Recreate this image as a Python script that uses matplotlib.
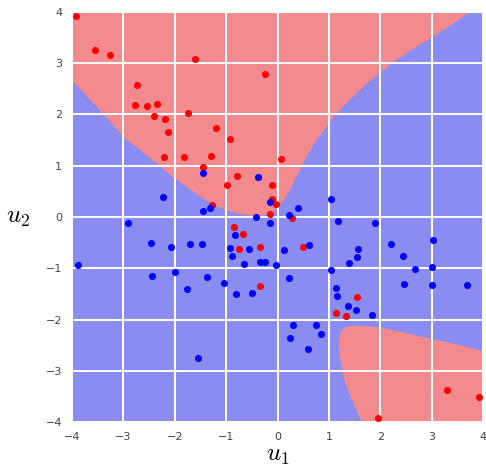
import matplotlib
matplotlib.use("Agg")
import matplotlib.pyplot as plt

plt.rcParams["mathtext.fontset"] = "cm"

# --- data -------------------------------------------------------------
red_u1 = [-3.93, -3.56, -3.25, -1.61, -0.25, -2.74, -2.77, -2.54, -2.35, -2.40,
          -2.18, -1.74, -2.13, -1.20, -0.92, -2.21, -1.81, -1.30, -1.45, -0.78,
          -0.99, -0.10, 0.07, -1.27, -0.11, -0.02, -0.14, -0.85, -0.67, -0.74,
          -0.35, -0.34, 0.28, 0.49, 1.55, 1.13, 1.34, 3.30, 3.92, 1.95]
red_u2 = [3.91, 3.25, 3.15, 3.07, 2.78, 2.57, 2.18, 2.16, 2.20, 1.96,
          1.91, 2.02, 1.65, 1.73, 1.51, 1.16, 1.16, 1.18, 0.97, 0.80,
          0.62, 0.62, 1.12, 0.23, 0.34, 0.25, 0.06, -0.19, -0.34, -0.62,
          -0.58, -1.34, -0.03, -0.59, -1.56, -1.88, -1.93, -3.38, -3.51, -3.92]

blue_u1 = [-1.45, -0.37, -2.23, -1.45, -1.32, -0.41, -0.14, -0.15, -2.90, -0.82,
           -2.47, -2.07, -1.71, -1.47, -0.93, -0.55, -0.89, -0.66, -0.34, -0.24,
           -0.02, -3.89, -2.44, -2.00, -1.37, -1.05, -1.77, -0.80, -0.50, 0.39,
           0.23, 1.04, 1.17, 1.89, 0.61, 0.12, 0.22, 1.04, 1.57, 1.54,
           1.39, 2.21, 2.45, 2.67, 3.02, 3.01, 2.46, 3.01, 3.69, 1.13,
           1.16, 1.37, 1.52, 1.84, 0.30, 0.74, 0.85, 0.24, 0.60, -1.54]
blue_u2 = [0.85, 0.77, 0.39, 0.12, 0.18, 0.00, 0.29, -0.11, -0.12, -0.35,
           -0.50, -0.58, -0.53, -0.53, -0.60, -0.62, -0.77, -0.92, -0.88, -0.88,
           -0.94, -0.93, -1.15, -1.07, -1.18, -1.29, -1.40, -1.51, -1.49, 0.18,
           0.03, 0.34, -0.08, -0.11, -0.54, -0.65, -1.20, -1.03, -0.62, -0.78,
           -0.89, -0.52, -0.76, -1.02, -0.45, -0.98, -1.31, -1.32, -1.32, -1.38,
           -1.55, -1.74, -1.82, -1.92, -2.10, -2.10, -2.29, -2.36, -2.58, -2.75]

# decision boundary of the upper red region (left to right)
upper_bx = [-4.0, -3.7, -3.4, -3.0, -2.7, -2.42, -2.2, -2.03, -1.75, -1.51, -1.3,
            -1.12, -0.9, -0.7, -0.5, -0.34, -0.2, -0.08, 0.02, 0.12, 0.24, 0.37,
            0.55, 0.75, 1.12, 1.45, 1.8, 2.23, 2.6, 2.97, 3.35, 3.75]
upper_by = [2.66, 2.34, 2.02, 1.56, 1.32, 1.10, 0.92, 0.77, 0.57, 0.40, 0.27,
            0.18, 0.10, 0.05, 0.02, 0.02, 0.05, 0.11, 0.19, 0.32, 0.52, 0.78,
            1.15, 1.48, 1.98, 2.33, 2.65, 3.0, 3.25, 3.48, 3.72, 4.0]

# outline of the lower-right red region
lower_bx = [1.64, 1.48, 1.32, 1.22, 1.19, 1.19, 1.21, 1.25, 1.31, 1.40, 1.52,
            1.75, 2.0, 2.4, 2.78, 3.1, 3.43, 3.75, 4.0, 4.0]
lower_by = [-4.0, -3.64, -3.25, -2.79, -2.50, -2.40, -2.30, -2.22, -2.16, -2.13,
            -2.12, -2.13, -2.16, -2.24, -2.33, -2.40, -2.47, -2.55, -2.62, -4.0]

ticks = [-4, -3, -2, -1, 0, 1, 2, 3, 4]

RED_FILL = "#f28a8e"
BLUE_FILL = "#8a8cf2"

# --- figure ------------------------------------------------------------
fig = plt.figure(figsize=(4.86, 4.68), dpi=100)
ax = fig.add_axes([0.148, 0.098, 0.846, 0.877])
ax.set_facecolor(BLUE_FILL)

ax.fill(upper_bx + [-4.0], upper_by + [4.0], color=RED_FILL, lw=0, zorder=0.5)
ax.fill(lower_bx, lower_by, color=RED_FILL, lw=0, zorder=0.5)

ax.set_xlim(-4, 4)
ax.set_ylim(-4, 4)
ax.set_xticks(ticks)
ax.set_yticks(ticks)

# white grid above the coloured regions, below the points
ax.set_axisbelow(False)
ax.grid(True, color="white", lw=1.3)
for t in ticks:
    ax.axvline(t, color="white", lw=1.3, zorder=2)
    ax.axhline(t, color="#f4f4fc", lw=1.3, zorder=2)

ax.scatter(red_u1, red_u2, s=26, c="red", linewidths=0, zorder=4)
ax.scatter(blue_u1, blue_u2, s=26, c="blue", linewidths=0, zorder=4)

for sp in ax.spines.values():
    sp.set_visible(False)
ax.tick_params(length=0, pad=7, labelsize=8, labelcolor="#444444")

ax.set_xlabel("$u_1$", fontsize=18, labelpad=1)
ax.set_ylabel("$u_2$", fontsize=18, rotation=0, labelpad=20, va="center")

fig.savefig("out.png", dpi=100)
